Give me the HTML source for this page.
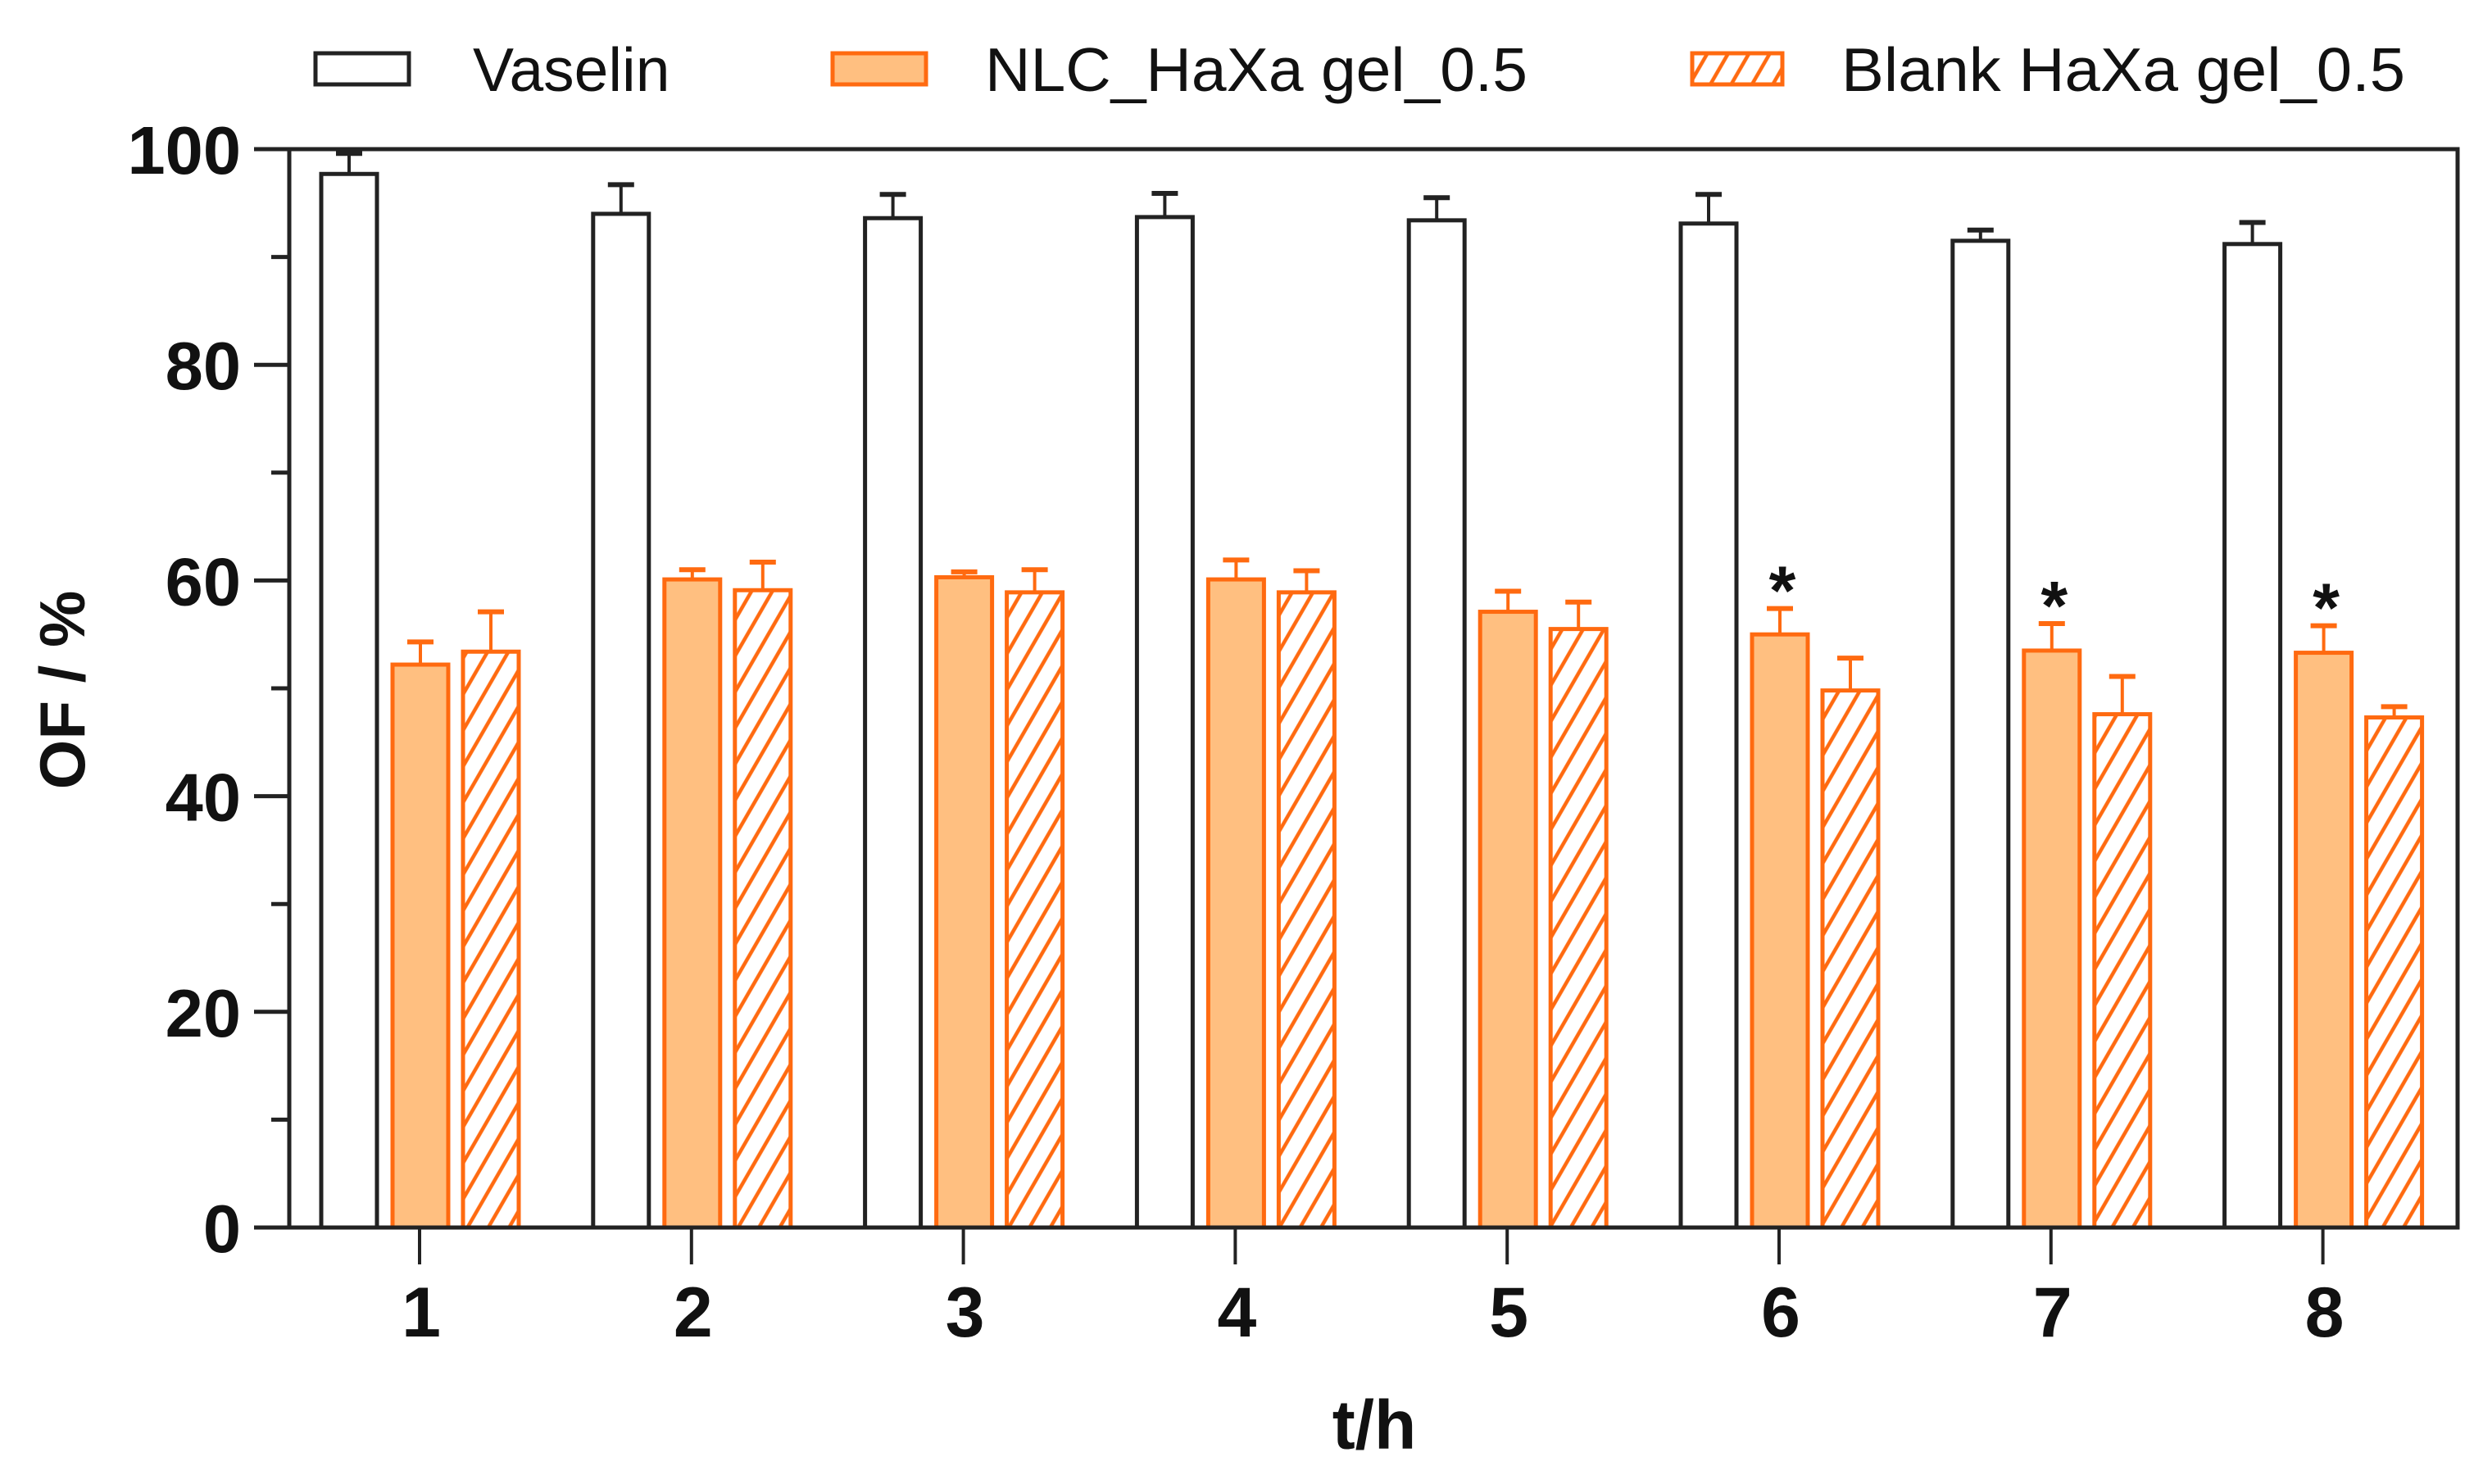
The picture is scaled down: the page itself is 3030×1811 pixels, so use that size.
<!DOCTYPE html>
<html><head><meta charset="utf-8"><style>
html,body{margin:0;padding:0;background:#fff;}
svg{display:block;font-family:"Liberation Sans",Arial,sans-serif;}
</style></head><body>
<svg id="chart" width="3030" height="1811" viewBox="0 0 3030 1811" xmlns="http://www.w3.org/2000/svg">
<defs>
<pattern id="hatch" patternUnits="userSpaceOnUse" width="22" height="22" patternTransform="rotate(30)">
<rect width="22" height="22" fill="#fff"/>
<line x1="11" y1="-2" x2="11" y2="24" stroke="#FF6A10" stroke-width="4.5"/>
</pattern>
</defs>
<g id="legend">
<g>
<rect x="385" y="65" width="114" height="38" fill="#fff" stroke="#222" stroke-width="5"/>
<text x="577" y="111" font-size="75" fill="#111">Vaselin</text></g>
<g>
<rect x="1016" y="65" width="114" height="38" fill="#FFBF80" stroke="#FF6A10" stroke-width="5"/>
<text x="1202" y="111" font-size="75" fill="#111" textLength="662" lengthAdjust="spacingAndGlyphs">NLC_HaXa gel_0.5</text></g>
<g>
<rect x="2065" y="65" width="110" height="38" fill="url(#hatch)" stroke="#FF6A10" stroke-width="5"/>
<text x="2247" y="111" font-size="75" fill="#111" textLength="688" lengthAdjust="spacingAndGlyphs">Blank HaXa gel_0.5</text></g>
</g>
<g id="axes"></g>
<g id="bars"></g>
<text transform="translate(103,842) rotate(-90)" text-anchor="middle" font-size="78" font-weight="bold" fill="#111">OF / %</text>
<text x="1677" y="1768" text-anchor="middle" font-size="84" font-weight="bold" fill="#111">t/h</text>
</svg>
<script>
const categories = ["1","2","3","4","5","6","7","8"];
const vaselin = [97.7, 94.0, 93.6, 93.7, 93.4, 93.1, 91.5, 91.2];
const vaselinErr = [99.6, 96.7, 95.8, 95.9, 95.5, 95.8, 92.5, 93.2];
const nlc = [52.2, 60.1, 60.3, 60.1, 57.1, 55.0, 53.5, 53.3];
const nlcErr = [54.3, 61.0, 60.8, 61.9, 59.0, 57.4, 56.0, 55.8];
const blank = [53.4, 59.1, 58.9, 58.9, 55.5, 49.8, 47.6, 47.3];
const blankErr = [57.1, 61.7, 61.0, 60.9, 58.0, 52.8, 51.1, 48.3];
const significant = [false, false, false, false, false, true, true, true];
const yTicks = [0, 20, 40, 60, 80, 100];
const yMinor = [10, 30, 50, 70, 90];

const NS = "http://www.w3.org/2000/svg";
const X0 = 353, X1 = 2999, Y0 = 1498, Y100 = 182;
function y(v){ return Y0 - (Y0 - Y100) * v / 100; }
function xc(i){ return 512 + i * 331.8; }
function mk(tag, attrs, parent){
  const e = document.createElementNS(NS, tag);
  for (const k in attrs) e.setAttribute(k, attrs[k]);
  parent.appendChild(e); return e;
}
const axes = document.getElementById('axes');
const bars = document.getElementById('bars');

yTicks.forEach(v => {
  const t = mk('line', {x1:310, x2:X0, y1:y(v), y2:y(v), stroke:'#222', 'stroke-width':5}, axes);
  
  
  const l = mk('text', {x:294, y:y(v)+30, 'text-anchor':'end', 'font-size':83, 'font-weight':'bold', fill:'#111'}, axes);
  l.textContent = v;
  
  
});
yMinor.forEach(v => {
  const t = mk('line', {x1:331, x2:X0, y1:y(v), y2:y(v), stroke:'#222', 'stroke-width':5}, axes);
  
  
});
categories.forEach((c, i) => {
  const t = mk('line', {x1:xc(i), x2:xc(i), y1:Y0, y2:1543, stroke:'#222', 'stroke-width':4}, axes);
  
  
  const l = mk('text', {x:xc(i)+2, y:1631, 'text-anchor':'middle', 'font-size':86, 'font-weight':'bold', fill:'#111'}, axes);
  l.textContent = c;
  
  
});

const W = 68;
const series = [
  {vals: vaselin, errs: vaselinErr, off: -86, fill: '#fff', stroke: '#222', name: 'vaselin'},
  {vals: nlc, errs: nlcErr, off: 1, fill: '#FFBF80', stroke: '#FF6A10', name: 'nlc'},
  {vals: blank, errs: blankErr, off: 87, fill: 'url(#hatch)', stroke: '#FF6A10', name: 'blank'}
];
series.forEach(s => {
  s.vals.forEach((v, i) => {
    const cx = xc(i) + s.off;
    const eb = mk('line', {x1:cx, x2:cx, y1:y(v), y2:y(s.errs[i]), stroke:s.stroke, 'stroke-width':4}, bars);
    
    
    const cap = mk('line', {x1:cx-16, x2:cx+16, y1:y(s.errs[i]), y2:y(s.errs[i]), stroke:s.stroke, 'stroke-width':6}, bars);
    
    
    const r = mk('rect', {x:cx-W/2, y:y(v), width:W, height:Y0-y(v), fill:s.fill, stroke:s.stroke, 'stroke-width':5}, bars);
    
    
  });
});
significant.forEach((sig, i) => {
  if (!sig) return;
  const st = mk('text', {x:xc(i)+4, y:y(nlcErr[i]) + 7, 'text-anchor':'middle', 'font-size':84, 'font-weight':'bold', fill:'#111'}, bars);
  st.textContent = '*';
  
  
});
const frame = mk('path', {d:`M310 ${Y100} H${X1} V${Y0} H${X0} V${Y100}`, fill:'none', stroke:'#222', 'stroke-width':5}, axes);


bars.parentNode.appendChild(axes);
</script>
</body></html>
